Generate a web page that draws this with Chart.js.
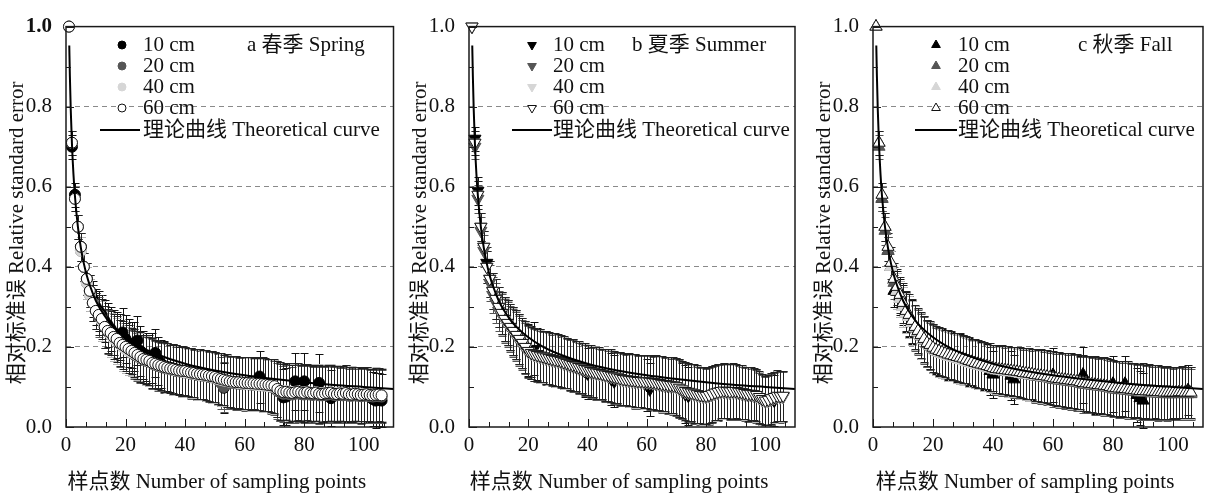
<!DOCTYPE html>
<html>
<head>
<meta charset="utf-8">
<script src="https://cdn.jsdelivr.net/npm/chart.js@4.4.1/dist/chart.umd.min.js"></script>
<style>
  body { margin: 0; background: #fff; width: 1213px; height: 496px; position: relative; overflow: hidden; }
  canvas { position: absolute; top: 0; }
</style>
</head>
<body>
<canvas id="chart-a" width="400" height="496" style="left:0px"></canvas>
<canvas id="chart-b" width="400" height="496" style="left:403px"></canvas>
<canvas id="chart-c" width="406" height="496" style="left:807px"></canvas>
<script>
// ---- data ----
const depthLabels = ['10 cm', '20 cm', '40 cm', '60 cm'];
const sampleCounts = Array.from({ length: 106 }, (_, i) => i + 1);
const xTicks = [0, 20, 40, 60, 80, 100];
const yTicks = [0, 0.2, 0.4, 0.6, 0.8, 1.0];
const xTitle = '样点数 Number of sampling points';
const yTitle = '相对标准误 Relative standard error';
const curveLabel = '理论曲线 Theoretical curve';

// theoretical curve, read at a few sample counts
const curveN = [1.1, 1.3, 1.6, 2, 2.5, 3, 4, 5, 6, 7, 8, 10, 12, 14, 16, 20, 25, 30, 40, 50, 60, 70, 80, 90, 100, 110];
const curveValues = [0.953, 0.877, 0.791, 0.707, 0.632, 0.577, 0.500, 0.447, 0.408, 0.378, 0.354, 0.316, 0.289, 0.267, 0.250, 0.224, 0.200, 0.183, 0.158, 0.141, 0.129, 0.120, 0.112, 0.105, 0.100, 0.095];

// a 春季 Spring
const spring10 = [1.00,0.70,0.58,0.50,0.45,0.40,0.37,0.34,0.32,0.30,
  0.29,0.28,0.265,0.255,0.245,0.235,0.23,0.225,0.236,0.22,
  0.21,0.205,0.20,0.216,0.19,0.18,0.175,0.17,0.172,0.185,
  0.165,0.158,0.152,0.15,0.148,0.146,0.144,0.142,0.14,0.139,
  0.137,0.135,0.134,0.13,0.131,0.13,0.128,0.127,0.126,0.124,
  0.121,0.118,0.098,0.115,0.113,0.112,0.111,0.11,0.11,0.109,
  0.109,0.108,0.108,0.107,0.126,0.106,0.105,0.104,0.103,0.10,
  0.094,0.088,0.074,0.076,0.085,0.084,0.114,0.087,0.086,0.114,
  0.086,0.084,0.083,0.085,0.11,0.082,0.083,0.084,0.072,0.082,
  0.081,0.083,0.082,0.084,0.081,0.08,0.082,0.081,0.079,0.08,
  0.081,0.079,0.07,0.066,0.068,0.066];
const spring20 = [1.00,0.71,0.57,0.50,0.44,0.40,0.36,0.33,0.31,0.29,
  0.275,0.265,0.25,0.238,0.23,0.222,0.215,0.208,0.20,0.195,
  0.19,0.185,0.18,0.176,0.172,0.168,0.165,0.162,0.158,0.155,
  0.152,0.15,0.148,0.146,0.144,0.142,0.14,0.139,0.138,0.136,
  0.135,0.133,0.132,0.13,0.129,0.128,0.127,0.125,0.124,0.122,
  0.118,0.11,0.10,0.112,0.111,0.11,0.109,0.108,0.108,0.107,
  0.107,0.106,0.105,0.105,0.104,0.104,0.103,0.102,0.10,0.098,
  0.09,0.086,0.083,0.084,0.082,0.081,0.083,0.084,0.082,0.081,
  0.083,0.081,0.08,0.082,0.079,0.079,0.08,0.081,0.082,0.08,
  0.079,0.08,0.079,0.081,0.078,0.078,0.079,0.078,0.077,0.078,
  0.078,0.077,0.076,0.077,0.077,0.076];
const spring40 = [1.00,0.71,0.57,0.50,0.44,0.40,0.36,0.33,0.31,0.29,
  0.28,0.265,0.25,0.24,0.23,0.22,0.215,0.21,0.20,0.195,
  0.19,0.186,0.183,0.178,0.174,0.17,0.167,0.163,0.16,0.157,
  0.154,0.152,0.15,0.147,0.145,0.143,0.142,0.14,0.138,0.137,
  0.135,0.134,0.133,0.131,0.13,0.129,0.128,0.127,0.125,0.123,
  0.12,0.118,0.116,0.115,0.113,0.112,0.111,0.11,0.109,0.108,
  0.107,0.107,0.106,0.105,0.104,0.104,0.103,0.102,0.101,0.10,
  0.094,0.09,0.089,0.09,0.088,0.087,0.088,0.089,0.087,0.086,
  0.088,0.086,0.085,0.087,0.085,0.084,0.085,0.086,0.087,0.085,
  0.084,0.085,0.084,0.086,0.083,0.083,0.084,0.083,0.082,0.082,
  0.083,0.082,0.081,0.082,0.082,0.081];
const spring60 = [1.00,0.71,0.57,0.50,0.45,0.40,0.37,0.34,0.31,0.29,
  0.28,0.27,0.25,0.24,0.235,0.225,0.22,0.21,0.205,0.20,
  0.195,0.19,0.185,0.18,0.175,0.17,0.168,0.165,0.16,0.158,
  0.155,0.153,0.15,0.148,0.146,0.145,0.143,0.141,0.14,0.14,
  0.138,0.136,0.135,0.133,0.132,0.131,0.13,0.128,0.127,0.125,
  0.122,0.12,0.118,0.116,0.114,0.113,0.112,0.112,0.111,0.11,
  0.11,0.109,0.109,0.108,0.108,0.107,0.106,0.105,0.104,0.102,
  0.095,0.09,0.087,0.088,0.086,0.085,0.087,0.088,0.086,0.085,
  0.087,0.085,0.084,0.086,0.083,0.082,0.084,0.085,0.086,0.083,
  0.082,0.084,0.083,0.085,0.082,0.081,0.083,0.082,0.08,0.081,
  0.082,0.08,0.079,0.08,0.081,0.079];
const springErr = [0,0.03,0.03,0.03,0.035,0.035,0.04,0.04,0.045,0.045,
  0.05,0.05,0.052,0.055,0.055,0.056,0.058,0.058,0.06,0.06,
  0.06,0.058,0.061,0.06,0.062,0.059,0.061,0.06,0.062,0.06,
  0.061,0.06,0.062,0.061,0.06,0.062,0.061,0.06,0.062,0.061,
  0.06,0.062,0.061,0.063,0.062,0.061,0.063,0.062,0.064,0.063,
  0.064,0.065,0.063,0.066,0.064,0.065,0.066,0.064,0.065,0.066,
  0.065,0.066,0.064,0.066,0.065,0.067,0.066,0.065,0.067,0.068,
  0.07,0.072,0.07,0.071,0.073,0.07,0.072,0.071,0.07,0.072,
  0.07,0.071,0.069,0.07,0.072,0.07,0.069,0.071,0.07,0.069,
  0.07,0.068,0.069,0.07,0.068,0.069,0.067,0.068,0.069,0.067,
  0.068,0.066,0.067,0.068,0.066,0.067];

// b 夏季 Summer
const summer10 = [1.00,0.72,0.59,0.50,0.45,0.41,0.37,0.34,0.32,0.30,
  0.285,0.27,0.26,0.25,0.24,0.23,0.22,0.21,0.20,0.192,
  0.188,0.195,0.182,0.178,0.176,0.173,0.171,0.169,0.167,0.166,
  0.164,0.161,0.159,0.156,0.154,0.152,0.149,0.147,0.14,0.134,
  0.139,0.137,0.135,0.134,0.132,0.13,0.128,0.12,0.114,0.123,
  0.121,0.119,0.118,0.117,0.116,0.115,0.114,0.114,0.113,0.105,
  0.094,0.111,0.11,0.109,0.107,0.106,0.105,0.104,0.103,0.101,
  0.097,0.09,0.082,0.078,0.085,0.083,0.081,0.079,0.078,0.077,
  0.079,0.082,0.085,0.087,0.089,0.09,0.089,0.088,0.089,0.089,
  0.087,0.086,0.084,0.082,0.082,0.081,0.079,0.074,0.069,0.066,
  0.067,0.068,0.066,0.077,0.076,0.077];
const summer20 = [1.00,0.70,0.57,0.49,0.44,0.40,0.36,0.33,0.31,0.29,
  0.28,0.265,0.255,0.245,0.235,0.225,0.215,0.205,0.196,0.188,
  0.183,0.18,0.177,0.175,0.173,0.171,0.169,0.167,0.165,0.164,
  0.162,0.159,0.157,0.154,0.152,0.15,0.147,0.145,0.142,0.14,
  0.137,0.135,0.133,0.132,0.13,0.128,0.127,0.125,0.123,0.121,
  0.119,0.117,0.116,0.115,0.114,0.113,0.112,0.112,0.111,0.111,
  0.11,0.109,0.108,0.107,0.105,0.104,0.103,0.102,0.101,0.099,
  0.095,0.091,0.087,0.085,0.083,0.081,0.079,0.077,0.076,0.075,
  0.077,0.08,0.083,0.085,0.087,0.088,0.087,0.086,0.087,0.087,
  0.085,0.084,0.082,0.08,0.08,0.079,0.077,0.072,0.067,0.064,
  0.065,0.069,0.072,0.075,0.074,0.075];
const summer40 = [1.00,0.71,0.58,0.50,0.45,0.40,0.37,0.34,0.32,0.30,
  0.283,0.268,0.258,0.248,0.238,0.228,0.218,0.208,0.198,0.189,
  0.184,0.181,0.179,0.177,0.175,0.173,0.171,0.169,0.167,0.166,
  0.164,0.161,0.159,0.156,0.154,0.152,0.149,0.147,0.144,0.142,
  0.139,0.137,0.135,0.134,0.132,0.13,0.129,0.127,0.125,0.123,
  0.121,0.119,0.118,0.117,0.116,0.115,0.114,0.114,0.113,0.113,
  0.112,0.111,0.11,0.109,0.107,0.106,0.105,0.104,0.103,0.101,
  0.097,0.093,0.089,0.087,0.085,0.083,0.081,0.079,0.078,0.077,
  0.079,0.082,0.085,0.087,0.089,0.09,0.089,0.088,0.089,0.089,
  0.087,0.086,0.084,0.082,0.082,0.081,0.079,0.074,0.069,0.065,
  0.067,0.071,0.074,0.077,0.076,0.077];
const summer60 = [1.00,0.71,0.58,0.50,0.45,0.40,0.37,0.34,0.32,0.30,
  0.285,0.27,0.26,0.25,0.24,0.23,0.22,0.21,0.20,0.19,
  0.185,0.182,0.18,0.178,0.176,0.174,0.172,0.17,0.168,0.167,
  0.165,0.162,0.16,0.157,0.155,0.153,0.15,0.148,0.145,0.143,
  0.14,0.138,0.136,0.135,0.133,0.131,0.13,0.128,0.126,0.124,
  0.122,0.12,0.119,0.118,0.117,0.116,0.115,0.115,0.114,0.114,
  0.113,0.112,0.111,0.11,0.108,0.107,0.106,0.105,0.104,0.102,
  0.098,0.094,0.09,0.088,0.086,0.084,0.082,0.08,0.079,0.078,
  0.08,0.083,0.086,0.088,0.09,0.091,0.09,0.089,0.09,0.09,
  0.088,0.087,0.085,0.083,0.083,0.082,0.08,0.075,0.07,0.066,
  0.068,0.072,0.075,0.078,0.077,0.078];
const summerErr = [0,0.03,0.035,0.035,0.04,0.04,0.045,0.045,0.05,0.05,
  0.052,0.055,0.056,0.058,0.06,0.061,0.062,0.063,0.064,0.065,
  0.064,0.066,0.065,0.066,0.064,0.066,0.065,0.064,0.066,0.065,
  0.064,0.065,0.063,0.064,0.065,0.063,0.064,0.063,0.064,0.063,
  0.064,0.063,0.065,0.064,0.063,0.065,0.064,0.066,0.065,0.064,
  0.066,0.065,0.064,0.066,0.065,0.067,0.066,0.065,0.067,0.066,
  0.067,0.066,0.068,0.067,0.069,0.068,0.07,0.069,0.07,0.071,
  0.072,0.071,0.073,0.072,0.071,0.073,0.072,0.071,0.072,0.07,
  0.071,0.07,0.069,0.07,0.068,0.069,0.067,0.068,0.069,0.067,
  0.068,0.067,0.066,0.067,0.066,0.065,0.066,0.064,0.063,0.062,
  0.063,0.064,0.063,0.064,0.063,0.062];

// c 秋季 Fall
const fall10 = [1.00,0.71,0.57,0.50,0.44,0.40,0.34,0.345,0.325,0.305,
  0.288,0.276,0.262,0.248,0.238,0.228,0.218,0.208,0.203,0.196,
  0.191,0.188,0.185,0.182,0.179,0.177,0.175,0.173,0.171,0.169,
  0.166,0.163,0.161,0.158,0.156,0.154,0.152,0.15,0.14,0.131,
  0.143,0.142,0.141,0.14,0.139,0.128,0.119,0.136,0.135,0.133,
  0.132,0.131,0.13,0.128,0.127,0.126,0.125,0.124,0.122,0.13,
  0.119,0.118,0.117,0.116,0.115,0.114,0.113,0.112,0.11,0.131,
  0.107,0.106,0.105,0.104,0.103,0.102,0.101,0.10,0.099,0.108,
  0.096,0.095,0.094,0.108,0.093,0.092,0.091,0.08,0.072,0.066,
  0.088,0.088,0.087,0.087,0.086,0.086,0.085,0.085,0.085,0.085,
  0.085,0.086,0.086,0.085,0.092,0.085];
const fall20 = [1.00,0.70,0.57,0.49,0.44,0.40,0.36,0.34,0.32,0.30,
  0.285,0.275,0.26,0.246,0.236,0.226,0.216,0.207,0.201,0.194,
  0.189,0.186,0.183,0.18,0.177,0.175,0.173,0.171,0.169,0.167,
  0.164,0.161,0.159,0.156,0.154,0.152,0.15,0.148,0.146,0.143,
  0.141,0.14,0.139,0.138,0.137,0.136,0.135,0.134,0.133,0.131,
  0.13,0.129,0.128,0.126,0.125,0.124,0.123,0.122,0.12,0.118,
  0.117,0.116,0.115,0.114,0.113,0.112,0.111,0.11,0.108,0.106,
  0.105,0.104,0.103,0.102,0.101,0.10,0.099,0.098,0.096,0.094,
  0.093,0.092,0.092,0.091,0.09,0.089,0.088,0.087,0.086,0.086,
  0.085,0.085,0.084,0.084,0.083,0.083,0.082,0.082,0.082,0.082,
  0.082,0.083,0.083,0.082,0.082,0.082];
const fall40 = [1.00,0.71,0.58,0.50,0.45,0.40,0.37,0.34,0.32,0.30,
  0.285,0.275,0.26,0.248,0.238,0.228,0.218,0.21,0.203,0.196,
  0.19,0.186,0.183,0.18,0.177,0.175,0.173,0.171,0.168,0.166,
  0.163,0.161,0.158,0.156,0.154,0.152,0.15,0.148,0.146,0.144,
  0.142,0.141,0.14,0.139,0.138,0.137,0.136,0.135,0.133,0.132,
  0.131,0.13,0.129,0.128,0.127,0.126,0.125,0.124,0.122,0.121,
  0.12,0.119,0.118,0.117,0.116,0.115,0.114,0.113,0.111,0.11,
  0.108,0.107,0.106,0.105,0.104,0.103,0.102,0.101,0.099,0.097,
  0.096,0.095,0.095,0.094,0.093,0.092,0.091,0.09,0.089,0.089,
  0.088,0.088,0.087,0.087,0.086,0.086,0.085,0.085,0.085,0.085,
  0.085,0.086,0.086,0.085,0.085,0.085];
const fall60 = [1.00,0.71,0.58,0.50,0.45,0.41,0.37,0.35,0.33,0.31,
  0.29,0.28,0.265,0.25,0.24,0.23,0.22,0.21,0.205,0.198,
  0.193,0.19,0.187,0.184,0.181,0.179,0.177,0.175,0.173,0.171,
  0.168,0.165,0.163,0.16,0.158,0.156,0.154,0.152,0.15,0.147,
  0.145,0.144,0.143,0.142,0.141,0.14,0.139,0.138,0.137,0.135,
  0.134,0.133,0.132,0.13,0.129,0.128,0.127,0.126,0.124,0.122,
  0.121,0.12,0.119,0.118,0.117,0.116,0.115,0.114,0.112,0.11,
  0.109,0.108,0.107,0.106,0.105,0.104,0.103,0.102,0.10,0.098,
  0.097,0.096,0.096,0.095,0.094,0.093,0.092,0.091,0.09,0.09,
  0.089,0.089,0.088,0.088,0.087,0.087,0.086,0.086,0.086,0.086,
  0.086,0.087,0.087,0.086,0.086,0.086];
const fallErr = [0,0.03,0.03,0.035,0.035,0.04,0.04,0.045,0.045,0.05,
  0.05,0.052,0.054,0.055,0.056,0.057,0.058,0.058,0.059,0.06,
  0.059,0.06,0.06,0.059,0.061,0.06,0.059,0.06,0.061,0.06,
  0.059,0.06,0.058,0.059,0.06,0.058,0.059,0.058,0.059,0.058,
  0.06,0.059,0.061,0.06,0.062,0.061,0.062,0.061,0.063,0.062,
  0.063,0.064,0.063,0.065,0.064,0.066,0.065,0.067,0.066,0.067,
  0.066,0.068,0.067,0.068,0.067,0.069,0.068,0.069,0.068,0.07,
  0.069,0.07,0.069,0.071,0.07,0.069,0.071,0.07,0.069,0.07,
  0.069,0.07,0.068,0.069,0.07,0.068,0.069,0.067,0.068,0.069,
  0.067,0.068,0.067,0.066,0.067,0.066,0.065,0.066,0.065,0.064,
  0.065,0.064,0.065,0.064,0.063,0.064];

// ---- styling ----
const FONT = "'Liberation Serif', 'Noto Sans CJK SC', serif";
const SIZE = 21;
const fills = ['#000000', '#555555', '#d6d6d6', '#ffffff'];
const borders = ['#000000', '#555555', '#d6d6d6', '#111111'];
const barColors = ['#111111', '#555555', '#b8b8b8', '#222222'];

// draws a legend marker the same way the points look
function drawMarker(ctx, style, rot, r, x, y) {
  ctx.beginPath();
  if (style === 'circle') {
    ctx.arc(x, y, r, 0, Math.PI * 2);
  } else {
    const s = rot === 180 ? -1 : 1;
    ctx.moveTo(x, y - s * r);
    ctx.lineTo(x + r * 0.87, y + s * r * 0.5);
    ctx.lineTo(x - r * 0.87, y + s * r * 0.5);
    ctx.closePath();
  }
  ctx.fill();
  ctx.stroke();
}

// error bars under the markers
const errorBars = {
  id: 'errorBars',
  beforeDatasetsDraw(chart) {
    const ctx = chart.ctx, xs = chart.scales.x, ys = chart.scales.y;
    ctx.save();
    ctx.lineWidth = 1;
    for (let d = chart.data.datasets.length - 1; d >= 0; d--) {
      const ds = chart.data.datasets[d];
      if (!ds.errors) continue;
      ctx.strokeStyle = ds.errorColor;
      ctx.beginPath();
      ds.data.forEach((p, i) => {
        const e = ds.errors[i];
        if (!e) return;
        const x = Math.round(xs.getPixelForValue(p.x)) + 0.5;
        const y1 = Math.round(ys.getPixelForValue(p.y + e)) + 0.5;
        const y2 = Math.round(ys.getPixelForValue(p.y - e)) + 0.5;
        ctx.moveTo(x, y1); ctx.lineTo(x, y2);
        ctx.moveTo(x - 4, y1); ctx.lineTo(x + 4, y1);
        ctx.moveTo(x - 4, y2); ctx.lineTo(x + 4, y2);
      });
      ctx.stroke();
    }
    ctx.restore();
  }
};

// box, inward ticks, titles, legend
const decor = {
  id: 'decor',
  afterDraw(chart, args, o) {
    const { ctx, chartArea: a } = chart;
    const xs = chart.scales.x, ys = chart.scales.y;
    ctx.save();
    ctx.strokeStyle = '#1a1a1a';
    ctx.lineWidth = 1.5;
    ctx.strokeRect(a.left, a.top, a.right - a.left, a.bottom - a.top);

    ctx.lineWidth = 1;
    ctx.beginPath();
    for (let k = 0; k * 20 / 3 <= 110; k++) {
      const x = Math.round(xs.getPixelForValue(k * 20 / 3)) + 0.5;
      const len = k % 3 === 0 ? 8 : 5;
      ctx.moveTo(x, a.bottom); ctx.lineTo(x, a.bottom - len);
    }
    for (let k = 0; k <= 10; k++) {
      const y = Math.round(ys.getPixelForValue(k / 10)) + 0.5;
      const len = k % 2 === 0 ? 8 : 5;
      ctx.moveTo(a.left, y); ctx.lineTo(a.left + len, y);
    }
    ctx.stroke();

    ctx.fillStyle = '#111';
    ctx.font = SIZE + 'px ' + FONT;
    ctx.textBaseline = 'middle';
    ctx.textAlign = 'center';
    ctx.fillText(xTitle, (a.left + a.right) / 2 - 13, 482);
    ctx.save();
    ctx.translate(a.left - 49, (a.top + a.bottom) / 2 + 6);
    ctx.rotate(-Math.PI / 2);
    ctx.fillText(yTitle, 0, 0);
    ctx.restore();

    ctx.textAlign = 'left';
    ctx.fillText(o.label, a.left + o.labelX, 45);

    const rows = chart.data.datasets.filter(d => d.errors).reverse();
    rows.forEach((ds, i) => {
      const y = 45 + i * 21;
      ctx.fillStyle = ds.backgroundColor;
      ctx.strokeStyle = ds.borderColor;
      ctx.lineWidth = 1;
      drawMarker(ctx, ds.pointStyle, ds.rotation, o.legendRadius, a.left + o.markerX, y);
      ctx.fillStyle = '#111';
      ctx.fillText(ds.label, a.left + o.textX, y);
    });
    ctx.strokeStyle = '#000';
    ctx.lineWidth = 2;
    ctx.beginPath();
    ctx.moveTo(a.left + o.lineX[0], 130);
    ctx.lineTo(a.left + o.lineX[1], 130);
    ctx.stroke();
    ctx.fillText(curveLabel, a.left + o.textX, 130);
    ctx.restore();
  }
};

const panels = [
  { id: 'chart-a', label: 'a 春季 Spring', style: 'circle', rotation: 0, radius: 5.5, legendRadius: 4,
    series: [spring10, spring20, spring40, spring60], errors: springErr, boldTop: true, padRight: 3,
    markerX: 56, textX: 77, lineX: [34, 74], labelX: 181 },
  { id: 'chart-b', label: 'b 夏季 Summer', style: 'triangle', rotation: 180, radius: 7, legendRadius: 5,
    series: [summer10, summer20, summer40, summer60], errors: summerErr, boldTop: false, padRight: 4,
    markerX: 63, textX: 84, lineX: [43, 83], labelX: 163 },
  { id: 'chart-c', label: 'c 秋季 Fall', style: 'triangle', rotation: 0, radius: 7, legendRadius: 5,
    series: [fall10, fall20, fall40, fall60], errors: fallErr, boldTop: false, padRight: 10,
    markerX: 63, textX: 85, lineX: [42, 84], labelX: 205 }
];

panels.forEach(p => {
  const depthSets = p.series.map((vals, k) => ({
    label: depthLabels[k],
    data: sampleCounts.map((n, i) => ({ x: n, y: vals[i] })),
    pointStyle: p.style,
    rotation: p.rotation,
    pointRadius: p.radius,
    pointHoverRadius: p.radius,
    backgroundColor: fills[k],
    borderColor: borders[k],
    borderWidth: 1,
    showLine: false,
    clip: false,
    errors: p.errors,
    errorColor: barColors[k]
  }));

  const curveSet = {
    label: curveLabel,
    data: curveN.map((n, i) => ({ x: n, y: curveValues[i] })),
    showLine: true,
    borderColor: '#000',
    borderWidth: 2,
    pointRadius: 0,
    cubicInterpolationMode: 'monotone'
  };

  new Chart(document.getElementById(p.id), {
    type: 'scatter',
    data: { datasets: [curveSet].concat(depthSets.reverse()) },
    options: {
      responsive: false,
      animation: false,
      events: [],
      layout: { padding: { top: 15, right: p.padRight, left: 0, bottom: 0 } },
      plugins: {
        legend: { display: false },
        tooltip: { enabled: false },
        decor: { label: p.label, legendRadius: p.legendRadius, markerX: p.markerX, textX: p.textX, lineX: p.lineX, labelX: p.labelX }
      },
      scales: {
        x: {
          type: 'linear', min: 0, max: 110,
          afterBuildTicks: s => { s.ticks = xTicks.map(v => ({ value: v })); },
          afterFit: s => { s.height = 69; },
          grid: { display: false, drawTicks: false },
          border: { display: false },
          ticks: { font: { family: FONT, size: SIZE }, color: '#111', padding: 6, maxRotation: 0, autoSkip: false,
            callback: v => String(v) }
        },
        y: {
          type: 'linear', min: 0, max: 1,
          afterBuildTicks: s => { s.ticks = yTicks.map(v => ({ value: v })); },
          afterFit: s => { s.width = 66; },
          grid: {
            drawTicks: false, lineWidth: 1,
            color: c => (c.tick && c.tick.value > 0.05 && c.tick.value < 0.95) ? '#8a8a8a' : 'rgba(0,0,0,0)'
          },
          border: { display: false, dash: [5, 4] },
          ticks: {
            font: c => ({ family: FONT, size: SIZE, weight: (p.boldTop && c.tick && c.tick.value === 1) ? 'bold' : 'normal' }),
            color: '#111', padding: 14, autoSkip: false,
            callback: v => v.toFixed(1)
          }
        }
      }
    },
    plugins: [errorBars, decor]
  });
});
</script>
</body>
</html>
